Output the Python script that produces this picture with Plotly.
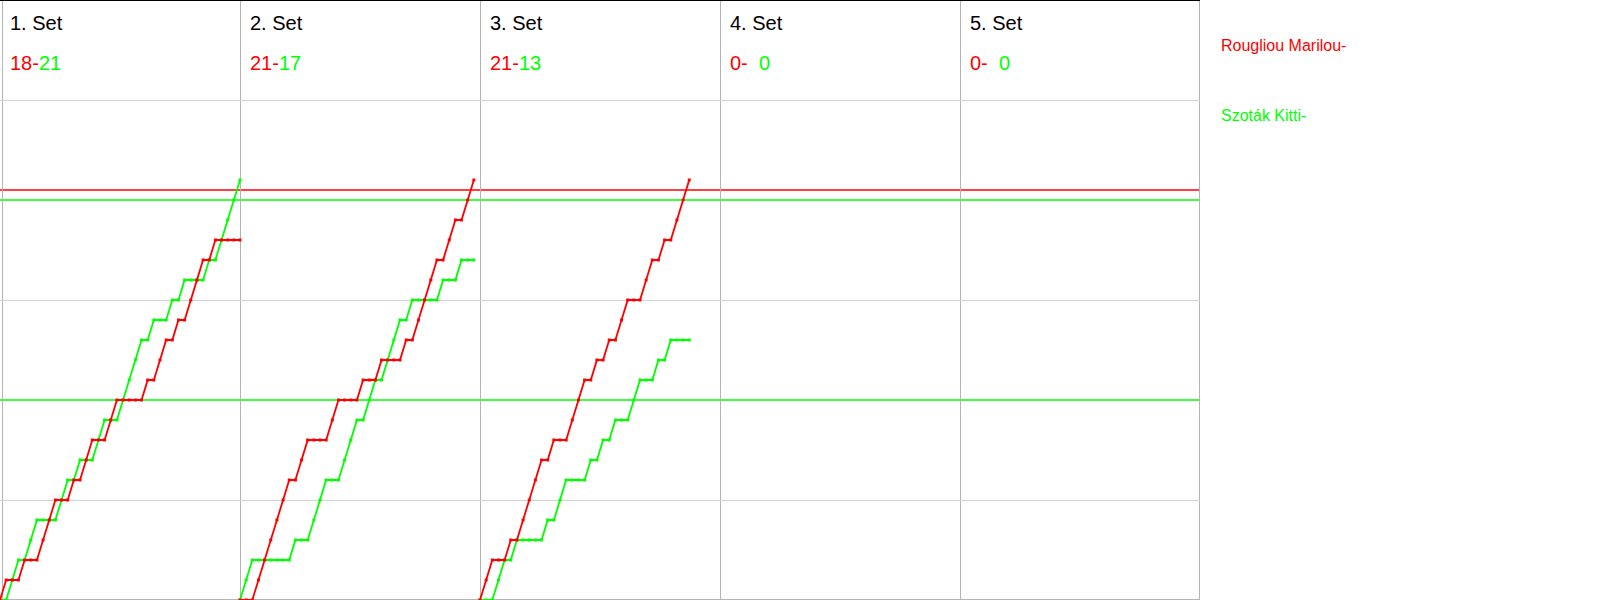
import plotly.graph_objects as go

# ---------------- data ----------------
set_titles = ["1. Set", "2. Set", "3. Set", "4. Set", "5. Set"]
red_name = "Rougliou Marilou-"
green_name = "Szoták Kitti-"
red_final = [18, 21, 21, 0, 0]
green_final = [21, 17, 13, 0, 0]

# cumulative score after each rally (rally 0 = start of set)
set1_red = [0, 1, 1, 1, 2, 2, 2, 3, 4, 5, 5, 5, 6, 6, 7, 8, 8, 8, 9, 10,
            10, 10, 10, 10, 11, 11, 12, 13, 13, 14, 14, 15, 16, 17, 17, 18, 18, 18, 18, 18]
set1_green = [0, 0, 1, 2, 2, 3, 4, 4, 4, 4, 5, 6, 6, 7, 7, 7, 8, 9, 9, 9,
              10, 11, 12, 13, 13, 14, 14, 14, 15, 15, 16, 16, 16, 16, 17, 17, 18, 19, 20, 21]
set2_red = [0, 0, 0, 1, 2, 3, 4, 5, 6, 6, 7, 8, 8, 8, 8, 9, 10, 10, 10, 10,
            11, 11, 11, 12, 12, 12, 12, 13, 13, 14, 15, 16, 17, 17, 18, 19, 19, 20, 21]
set2_green = [0, 1, 2, 2, 2, 2, 2, 2, 2, 3, 3, 3, 4, 5, 6, 6, 6, 7, 8, 9,
              9, 10, 11, 11, 12, 13, 14, 14, 15, 15, 15, 15, 15, 16, 16, 16, 17, 17, 17]
set3_red = [0, 1, 2, 2, 2, 3, 3, 4, 5, 6, 7, 7, 8, 8, 8, 9, 10, 11, 11, 12,
            12, 13, 13, 14, 15, 15, 15, 16, 17, 17, 18, 18, 19, 20, 21]
set3_green = [0, 0, 0, 1, 2, 2, 3, 3, 3, 3, 3, 4, 4, 5, 6, 6, 6, 6, 7, 7,
              8, 8, 9, 9, 9, 10, 11, 11, 11, 12, 12, 13, 13, 13, 13]

red_sets = [set1_red, set2_red, set3_red]
green_sets = [set1_green, set2_green, set3_green]

# horizontal reference levels
red_ref_levels = [20.5]
green_ref_levels = [20, 10]

# ---------------- styling / layout ----------------
RED = "#ff0000"
GREEN = "#00ff00"
SLOT = 39            # x-units reserved per set
N_SETS = 5
Y_MAX = 30
FONT = "Liberation Sans, Arial, sans-serif"
W, H = 1600, 600
PLOT_W = 1200

fig = go.Figure()

for k, (rs, gs) in enumerate(zip(red_sets, green_sets)):
    xr = [k * SLOT + i for i in range(len(rs))]
    xg = [k * SLOT + i for i in range(len(gs))]
    fig.add_trace(go.Scatter(x=xg, y=gs, mode="lines+markers",
                             line=dict(color=GREEN, width=1.8),
                             marker=dict(color=GREEN, size=3, symbol="square"),
                             showlegend=False, hoverinfo="skip", cliponaxis=True))
    fig.add_trace(go.Scatter(x=xr, y=rs, mode="lines+markers",
                             line=dict(color=RED, width=1.8),
                             marker=dict(color=RED, size=3, symbol="square"),
                             showlegend=False, hoverinfo="skip", cliponaxis=True))

shapes = []
for lv in red_ref_levels:
    shapes.append(dict(type="line", xref="paper", yref="y", x0=0, x1=1, y0=lv, y1=lv,
                       line=dict(color=RED, width=1.5), layer="between"))
for lv in green_ref_levels:
    shapes.append(dict(type="line", xref="paper", yref="y", x0=0, x1=1, y0=lv, y1=lv,
                       line=dict(color=GREEN, width=1.5), layer="between"))
# frame
shapes.append(dict(type="line", xref="paper", yref="paper", x0=0, x1=1,
                   y0=1 - 0.5 / H, y1=1 - 0.5 / H, line=dict(color="black", width=1), layer="above"))
shapes.append(dict(type="line", xref="paper", yref="paper", x0=2.5 / PLOT_W, x1=2.5 / PLOT_W,
                   y0=0, y1=1, line=dict(color="#b4b4b4", width=1), layer="below"))
shapes.append(dict(type="line", xref="paper", yref="paper", x0=0, x1=1,
                   y0=0.5 / H, y1=0.5 / H, line=dict(color="#b4b4b4", width=1), layer="below"))
shapes.append(dict(type="line", xref="paper", yref="paper", x0=1 - 0.5 / PLOT_W, x1=1 - 0.5 / PLOT_W,
                   y0=0, y1=1, line=dict(color="#b4b4b4", width=1), layer="below"))

def py(pix):
    return 1 - pix / H

annotations = []
for k in range(N_SETS):
    annotations.append(dict(text=set_titles[k], x=k * SLOT, xref="x", xanchor="left", xshift=9,
                            y=py(22.8), yref="paper", yanchor="middle", showarrow=False,
                            borderpad=0, font=dict(family=FONT, size=20, color="black")))
    r, g = red_final[k], green_final[k]
    pad = "\u00a0\u00a0" * (2 - len(str(g)))
    txt = (f"<span style='color:{RED}'>{r}-</span>"
           f"<span style='color:{GREEN}'>{pad}{g}</span>")
    annotations.append(dict(text=txt, x=k * SLOT, xref="x", xanchor="left", xshift=9,
                            y=py(62.8), yref="paper", yanchor="middle", showarrow=False,
                            borderpad=0, font=dict(family=FONT, size=20, color=RED)))

annotations.append(dict(text=red_name, x=1220 / PLOT_W, xref="paper", xanchor="left",
                        y=py(45.2), yref="paper", yanchor="middle", showarrow=False,
                        borderpad=0, font=dict(family=FONT, size=16, color=RED)))
annotations.append(dict(text=green_name, x=1220 / PLOT_W, xref="paper", xanchor="left",
                        y=py(115.2), yref="paper", yanchor="middle", showarrow=False,
                        borderpad=0, font=dict(family=FONT, size=16, color=GREEN)))

fig.update_layout(
    width=W, height=H,
    margin=dict(l=0, r=W - PLOT_W, t=0, b=0, pad=0),
    paper_bgcolor="white", plot_bgcolor="white",
    xaxis=dict(range=[0, SLOT * N_SETS], tickvals=[SLOT * (k + 1) for k in range(N_SETS)],
               showticklabels=False, ticks="", showgrid=True, gridcolor="#b4b4b4", gridwidth=1,
               zeroline=False, showline=False, fixedrange=True),
    yaxis=dict(range=[0, Y_MAX], tickvals=[5, 15, 25], showticklabels=False, ticks="",
               showgrid=True, gridcolor="#d3d3d3", gridwidth=1, zeroline=False, showline=False,
               fixedrange=True),
    shapes=shapes,
    annotations=annotations,
    showlegend=False,
)

fig.write_html("out.html",
               config={"displayModeBar": False, "staticPlot": True},
               post_script="document.body.style.margin='0';document.body.style.overflow='hidden';")
